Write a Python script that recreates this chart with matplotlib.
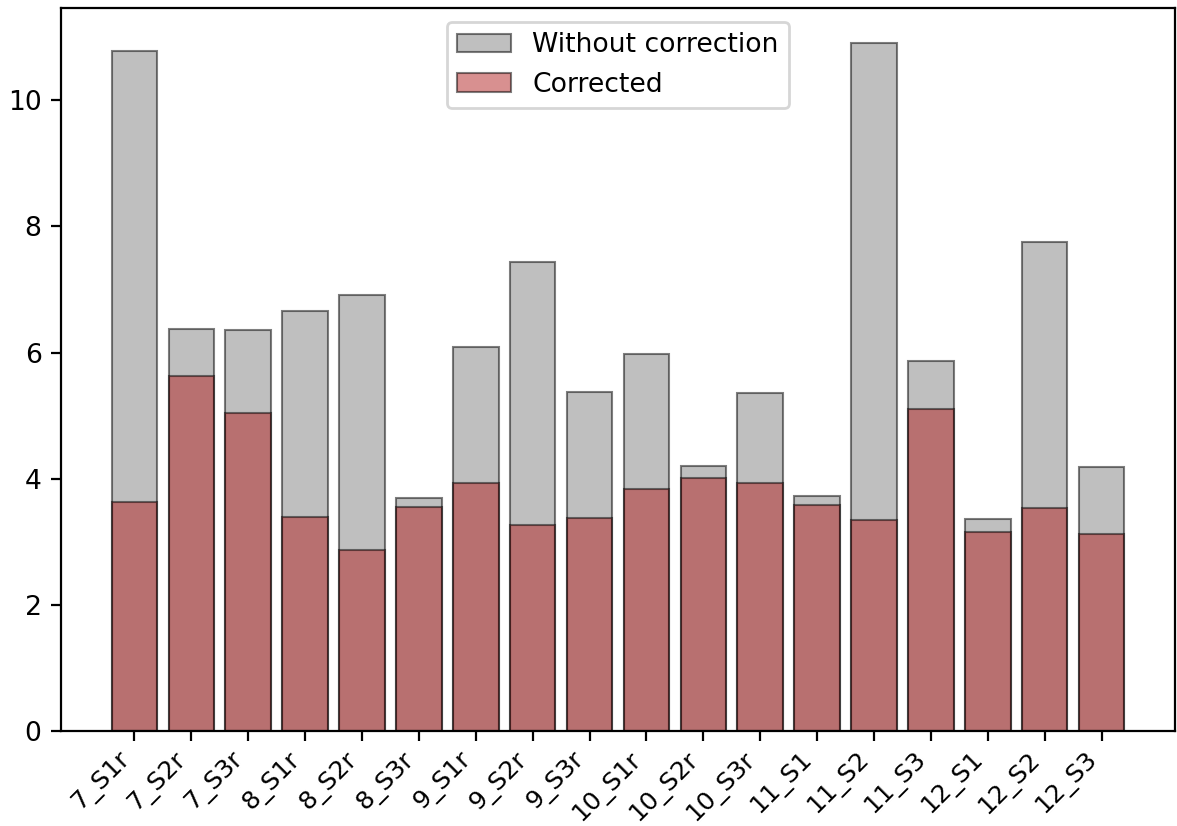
import numpy as np
import matplotlib
matplotlib.use('Agg')
import matplotlib.pyplot as plt

# muestras
etiquetas = ['7_S1r', '7_S2r', '7_S3r', '8_S1r', '8_S2r', '8_S3r',
             '9_S1r', '9_S2r', '9_S3r', '10_S1r', '10_S2r', '10_S3r',
             '11_S1', '11_S2', '11_S3', '12_S1', '12_S2', '12_S3']

# valores sin corregir y corregidos
sin_correccion = [10.78, 6.37, 6.36, 6.66, 6.91, 3.70,
                  6.09, 7.44, 5.38, 5.97, 4.20, 5.36,
                  3.72, 10.91, 5.87, 3.36, 7.75, 4.19]
corregido = [3.63, 5.63, 5.04, 3.39, 2.87, 3.55,
             3.93, 3.26, 3.37, 3.84, 4.01, 3.93,
             3.59, 3.35, 5.10, 3.15, 3.53, 3.12]

x = np.arange(len(etiquetas))

plt.rcParams['font.size'] = 9.6

fig = plt.figure(figsize=(1177/200, 826/200), dpi=200)
ax = fig.add_subplot(111)
fig.subplots_adjust(left=0.0518, right=0.9983, top=0.9898, bottom=0.115)

ax.bar(x, sin_correccion, color='gray', alpha=0.5, edgecolor='black',
       linewidth=0.75, label='Without correction')
ax.bar(x, corregido, color='firebrick', alpha=0.5, edgecolor='black',
       linewidth=0.75, label='Corrected')

ax.set_xticks(x)
ax.set_xticklabels(etiquetas, rotation=45, ha='right', fontsize=9.0)
ax.tick_params(axis='x', pad=2.5)
ax.legend(loc='upper center')

fig.savefig('out.png', dpi=200)
